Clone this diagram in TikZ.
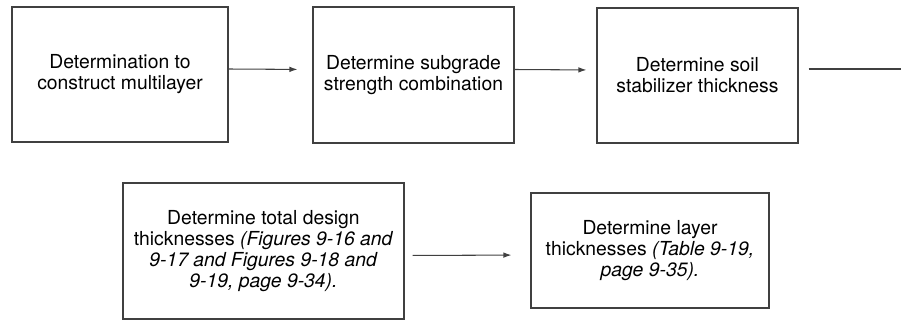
\documentclass[tikz,border=0pt]{standalone}
\usepackage{fontspec}
\setmainfont{TeX Gyre Heros}
\usepackage{tikz}
\usepackage{xcolor}
\usetikzlibrary{positioning,arrows.meta,calc}

\begin{document}
\begin{tikzpicture}[
      x=1cm, y=1cm,
      stepbox/.style={draw=black!75, line width=0.6pt, inner sep=2pt, align=center, font=\fontsize{11pt}{11.9pt}\selectfont},
      arr/.style={-{Latex[length=1.6mm, width=1.1mm]}, line width=0.6pt, draw=black!75}
  ]
    \useasboundingbox (0,0) rectangle (18.02,6.4);
    \node[stepbox, minimum width=4.32cm, minimum height=2.70cm] (multi) at (2.40,4.91) {Determination to\\construct multilayer};
    \node[stepbox, minimum width=4.02cm, minimum height=2.72cm] (subgrade) at (8.27,4.90) {Determine subgrade\\strength combination};
    \node[stepbox, minimum width=4.02cm, minimum height=2.70cm] (stab) at (13.95,4.89) {Determine soil\\stabilizer thickness};
    \node[stepbox, minimum width=5.62cm, minimum height=2.72cm] (total) at (5.27,1.38) {Determine total design\\thicknesses \textit{(Figures 9-16 and}\\\textit{9-17 and Figures 9-18 and}\\\textit{9-19, page 9-34).}};
    \node[stepbox, minimum width=4.76cm, minimum height=2.30cm] (layer) at (13.00,1.39) {Determine layer\\thicknesses \textit{(Table 9-19,}\\\textit{page 9-35).}};
    \coordinate (cont) at (18.02,5.02);
    \draw[arr, shorten >=0.3cm] ([yshift=1.1mm]multi.east) -- ([yshift=1.1mm]subgrade.west);
    \draw[arr, shorten >=0.2cm] ([yshift=1.1mm]subgrade.east) -- ([yshift=1.1mm]stab.west);
    \draw[line width=0.6pt, draw=black!75, shorten <=0.2cm] (stab.east |- cont) -- (cont);
    \draw[arr, shorten <=0.16cm, shorten >=0.38cm] ([yshift=-0.9mm]total.east) -- ([yshift=-0.9mm]layer.west);
  \end{tikzpicture}
\end{document}
